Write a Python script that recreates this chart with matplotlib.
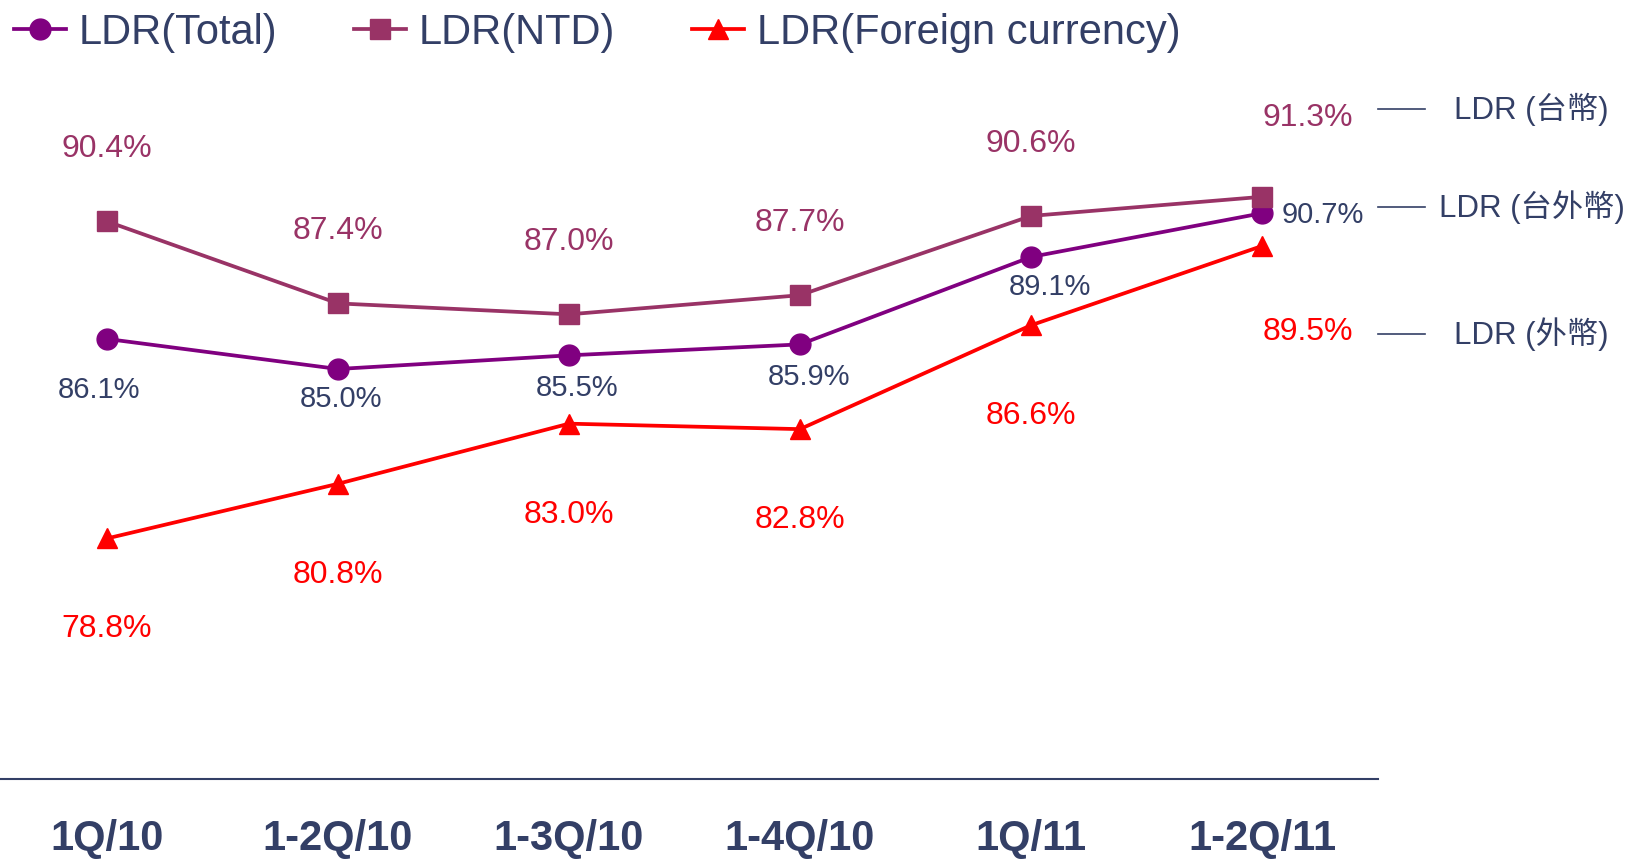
import matplotlib.pyplot as plt
from matplotlib.lines import Line2D

# data
periods = ["1Q/10", "1-2Q/10", "1-3Q/10", "1-4Q/10", "1Q/11", "1-2Q/11"]
ldr_total = [86.1, 85.0, 85.5, 85.9, 89.1, 90.7]
ldr_ntd = [90.4, 87.4, 87.0, 87.7, 90.6, 91.3]
ldr_foreign = [78.8, 80.8, 83.0, 82.8, 86.6, 89.5]
side_labels = ["LDR (台幣)", "LDR (台外幣)", "LDR (外幣)"]

NAVY = "#333F66"
C_TOTAL = "#800080"
C_NTD = "#993366"
C_FX = "#FF0000"

plt.rcParams["font.family"] = ["Liberation Sans", "Noto Sans CJK TC", "DejaVu Sans"]

fig = plt.figure(figsize=(16.3, 8.61), dpi=100)
ax = fig.add_axes([0, 1 - 779 / 861, 1378 / 1630, 779 / 861])
x = list(range(len(periods)))

ax.plot(x, ldr_total, color=C_TOTAL, lw=2.7, marker="o", ms=15, label="LDR(Total)")
ax.plot(x, ldr_ntd, color=C_NTD, lw=2.7, marker="s", ms=14, label="LDR(NTD)")
ax.plot(x, ldr_foreign, color=C_FX, lw=2.7, marker="^", ms=15, label="LDR(Foreign currency)")

# label offsets in pixels (layout only)
off_ntd = [(0, 72)] * 5 + [(46, 79)]
off_total = [(-8, -51), (3, -30), (8, -33), (9, -33), (19, -30), (20, -2)]
off_fx = [(0, -91)] * 5 + [(46, -86)]

for i in x:
    ax.annotate(f"{ldr_ntd[i]:.1f}%", (i, ldr_ntd[i]), xytext=off_ntd[i],
                textcoords="offset pixels", ha="center", va="center",
                fontsize=23, color=C_NTD)
    ax.annotate(f"{ldr_foreign[i]:.1f}%", (i, ldr_foreign[i]), xytext=off_fx[i],
                textcoords="offset pixels", ha="center", va="center",
                fontsize=23, color=C_FX)
    ax.annotate(f"{ldr_total[i]:.1f}%", (i, ldr_total[i]), xytext=off_total[i],
                textcoords="offset pixels", ha="left" if i == 5 else "center",
                va="center", fontsize=21, color=NAVY)

ax.set_xlim(-0.463, 5.502)
ax.set_ylim(70, 98.5)
ax.set_xticks(x)
ax.set_xticklabels(periods, fontsize=30, fontweight="bold", color=NAVY)
ax.tick_params(axis="x", length=0, pad=29)
ax.set_yticks([])
for side in ["top", "right", "left"]:
    ax.spines[side].set_visible(False)
ax.spines["bottom"].set_color(NAVY)
ax.spines["bottom"].set_linewidth(1.5)

fig.legend(loc="upper left", bbox_to_anchor=(14 / 1630, 0.985), ncol=3,
           frameon=False, fontsize=30, borderpad=0, borderaxespad=0,
           handlelength=1.25, handletextpad=0.3, columnspacing=1.85,
           labelcolor=NAVY, markerscale=1.0)

# side labels with short dashes
side_y = [109, 207, 334]
side_x = [1454, 1439, 1454]
for lab, yy, xx in zip(side_labels, side_y, side_x):
    fy = 1 - yy / 861
    fig.add_artist(Line2D([1378 / 1630, 1425 / 1630], [fy, fy], color=NAVY, lw=1.2))
    fig.text(xx / 1630, fy, lab, ha="left", va="center", fontsize=22.5, color=NAVY)

fig.savefig("out.png", dpi=100)
